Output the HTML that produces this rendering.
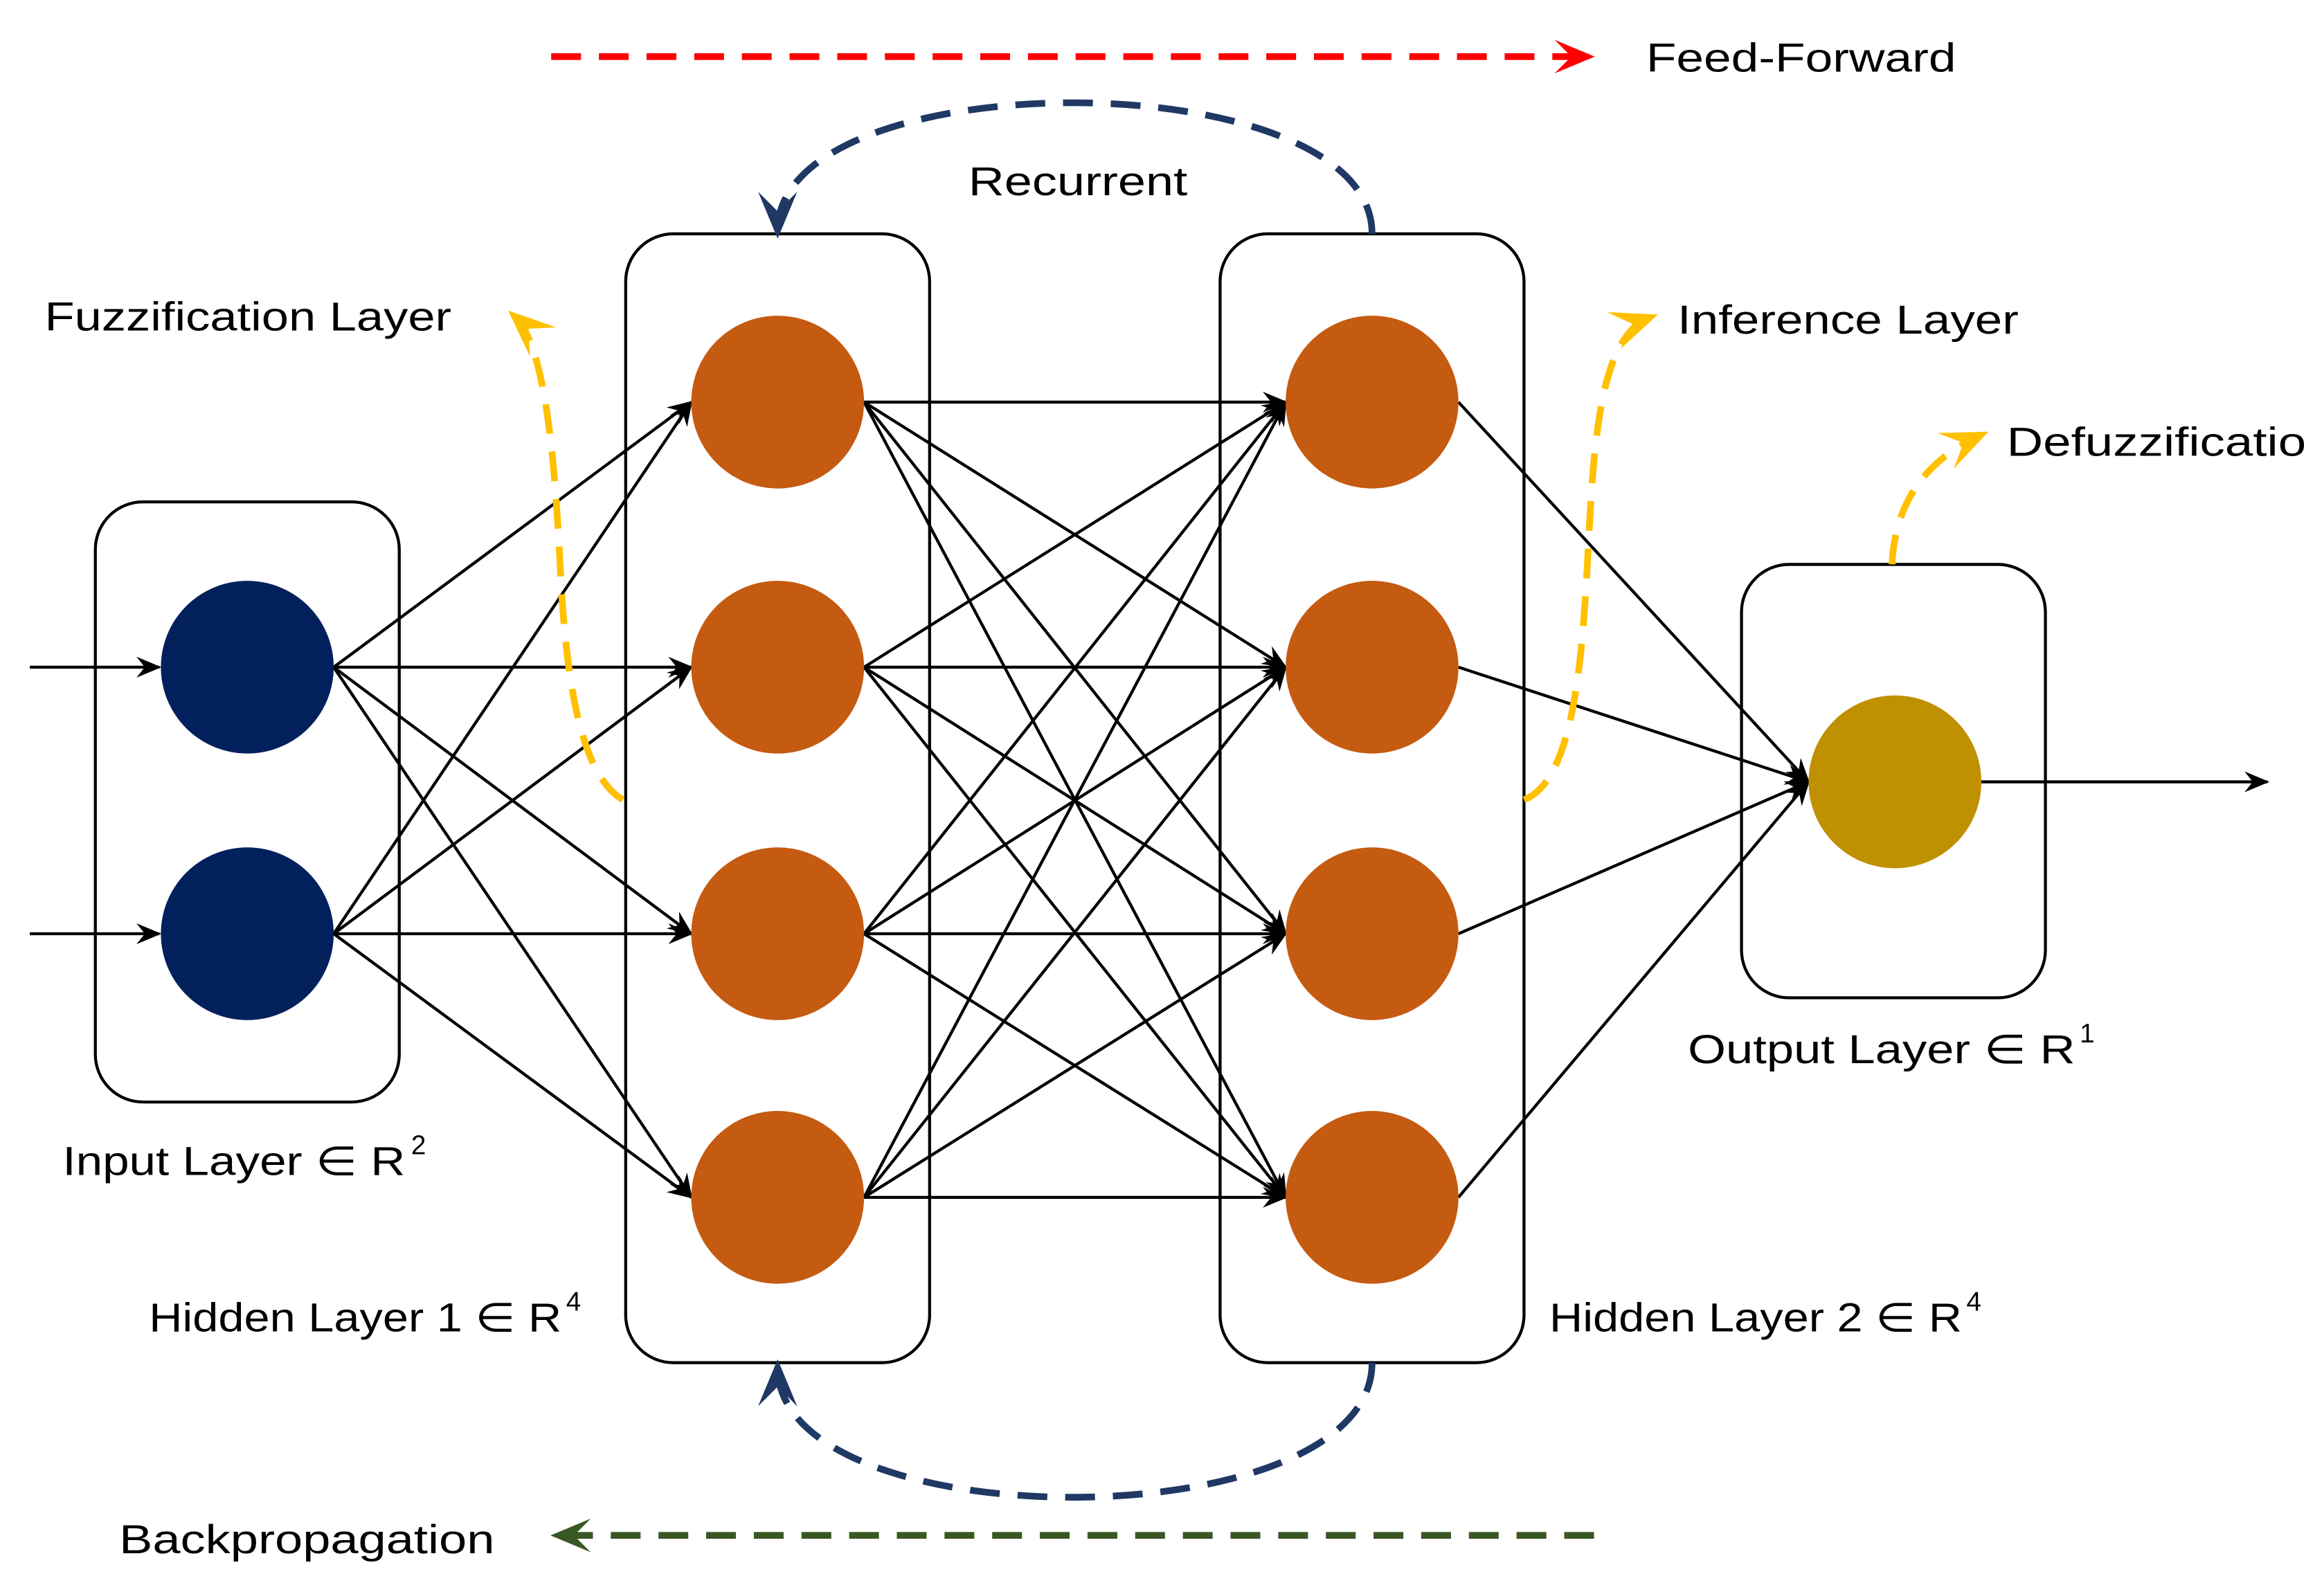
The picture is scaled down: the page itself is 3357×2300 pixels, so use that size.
<!DOCTYPE html>
<html><head><meta charset="utf-8"><style>html,body{margin:0;padding:0;background:#fff}svg{display:block}text{font-family:"Liberation Sans",sans-serif;font-size:27px;fill:#000}</style></head>
<body>
<svg width="3357" height="2300" viewBox="0 0 1560 1069" preserveAspectRatio="none" xmlns="http://www.w3.org/2000/svg">
<defs>
<marker id="ak" viewBox="0 0 12 10" refX="11" refY="5" markerWidth="17" markerHeight="14" markerUnits="userSpaceOnUse" orient="auto"><path d="M0,0 L12,5 L0,10 L4,5z" fill="#000"/></marker>
<marker id="ar" viewBox="0 0 12 10" refX="10" refY="5" markerWidth="6" markerHeight="7" orient="auto"><path d="M0,0 L12,5 L0,10 L5,5z" fill="#FF0000"/></marker>
<marker id="ag" viewBox="0 0 12 10" refX="10" refY="5" markerWidth="6" markerHeight="7" orient="auto"><path d="M0,0 L12,5 L0,10 L5,5z" fill="#385723"/></marker>
<marker id="ab" viewBox="0 0 12 10" refX="10" refY="5" markerWidth="7" markerHeight="8" orient="auto"><path d="M0,0 L12,5 L0,10 L5,5z" fill="#1F3864"/></marker>
<marker id="ay" viewBox="0 0 12 10" refX="10" refY="5" markerWidth="7" markerHeight="8" orient="auto"><path d="M0,0 L12,5 L0,10 L5,5z" fill="#FFC000"/></marker>
</defs>
<g fill="none" stroke="#000" stroke-width="2">
<rect x="64" y="337" width="204" height="403" rx="32"/>
<rect x="420" y="157" width="204" height="758" rx="32"/>
<rect x="819" y="157" width="204" height="758" rx="32"/>
<rect x="1169" y="379" width="204" height="291" rx="32"/>
</g>
<g stroke="#000" stroke-width="2" marker-end="url(#ak)" fill="none">
<line x1="20" y1="448" x2="107" y2="448"/><line x1="20" y1="627" x2="107" y2="627"/>
<line x1="1330" y1="525" x2="1522" y2="525"/>
<line x1="224" y1="448" x2="464" y2="270"/><line x1="224" y1="448" x2="464" y2="448"/><line x1="224" y1="448" x2="464" y2="627"/><line x1="224" y1="448" x2="464" y2="804"/>
<line x1="224" y1="627" x2="464" y2="270"/><line x1="224" y1="627" x2="464" y2="448"/><line x1="224" y1="627" x2="464" y2="627"/><line x1="224" y1="627" x2="464" y2="804"/>
<line x1="580" y1="270" x2="863" y2="270"/><line x1="580" y1="270" x2="863" y2="448"/><line x1="580" y1="270" x2="863" y2="627"/><line x1="580" y1="270" x2="863" y2="804"/>
<line x1="580" y1="448" x2="863" y2="270"/><line x1="580" y1="448" x2="863" y2="448"/><line x1="580" y1="448" x2="863" y2="627"/><line x1="580" y1="448" x2="863" y2="804"/>
<line x1="580" y1="627" x2="863" y2="270"/><line x1="580" y1="627" x2="863" y2="448"/><line x1="580" y1="627" x2="863" y2="627"/><line x1="580" y1="627" x2="863" y2="804"/>
<line x1="580" y1="804" x2="863" y2="270"/><line x1="580" y1="804" x2="863" y2="448"/><line x1="580" y1="804" x2="863" y2="627"/><line x1="580" y1="804" x2="863" y2="804"/>
<line x1="979" y1="270" x2="1214" y2="525"/><line x1="979" y1="448" x2="1214" y2="525"/><line x1="979" y1="627" x2="1214" y2="525"/><line x1="979" y1="804" x2="1214" y2="525"/>
</g>
<g fill="#02215C"><circle cx="166" cy="448" r="58"/><circle cx="166" cy="627" r="58"/></g>
<g fill="#C55A11"><circle cx="522" cy="270" r="58"/><circle cx="522" cy="448" r="58"/><circle cx="522" cy="627" r="58"/><circle cx="522" cy="804" r="58"/>
<circle cx="921" cy="270" r="58"/><circle cx="921" cy="448" r="58"/><circle cx="921" cy="627" r="58"/><circle cx="921" cy="804" r="58"/></g>
<circle cx="1272" cy="525" r="58" fill="#BF9000"/>
<g fill="none" stroke-width="4.5" stroke-dasharray="20,12">
<line x1="370" y1="38" x2="1066" y2="38" stroke="#FF0000" marker-end="url(#ar)"/>
<line x1="1070" y1="1031" x2="374" y2="1031" stroke="#385723" marker-end="url(#ag)"/>
<path d="M921,157 C921,40 522,40 522,155" stroke="#1F3864" marker-end="url(#ab)"/>
<path d="M921,915 C921,1035 522,1035 522,918" stroke="#1F3864" marker-end="url(#ab)"/>
<path d="M418,537 C390,520 380,460 376,380 C372,300 365,230 345,212" stroke="#FFC000" marker-end="url(#ay)"/>
<path d="M1023,537 C1055,525 1062,450 1066,370 C1070,290 1075,225 1108,213" stroke="#FFC000" marker-end="url(#ay)"/>
<path d="M1270,379 C1272,340 1290,310 1330,292" stroke="#FFC000" marker-end="url(#ay)"/>
</g>
<text x="1105" y="48" textLength="208" lengthAdjust="spacingAndGlyphs">Feed-Forward</text>
<text x="650" y="131" textLength="147" lengthAdjust="spacingAndGlyphs">Recurrent</text>
<text x="30" y="222" textLength="273" lengthAdjust="spacingAndGlyphs">Fuzzification Layer</text>
<text x="1126" y="224" textLength="229" lengthAdjust="spacingAndGlyphs">Inference Layer</text>
<text x="1347" y="306" textLength="201" lengthAdjust="spacingAndGlyphs">Defuzzificatio</text>
<text x="42" y="789" textLength="230" lengthAdjust="spacingAndGlyphs">Input Layer ∈ R</text><text x="276" y="775" style="font-size:18px">2</text>
<text x="100" y="894" textLength="277" lengthAdjust="spacingAndGlyphs">Hidden Layer 1 ∈ R</text><text x="380" y="880" style="font-size:18px">4</text>
<text x="1040" y="894" textLength="277" lengthAdjust="spacingAndGlyphs">Hidden Layer 2 ∈ R</text><text x="1320" y="880" style="font-size:18px">4</text>
<text x="1133" y="714" textLength="260" lengthAdjust="spacingAndGlyphs">Output Layer ∈ R</text><text x="1396" y="700" style="font-size:18px">1</text>
<text x="80" y="1043" textLength="252" lengthAdjust="spacingAndGlyphs">Backpropagation</text>
</svg>
</body></html>
